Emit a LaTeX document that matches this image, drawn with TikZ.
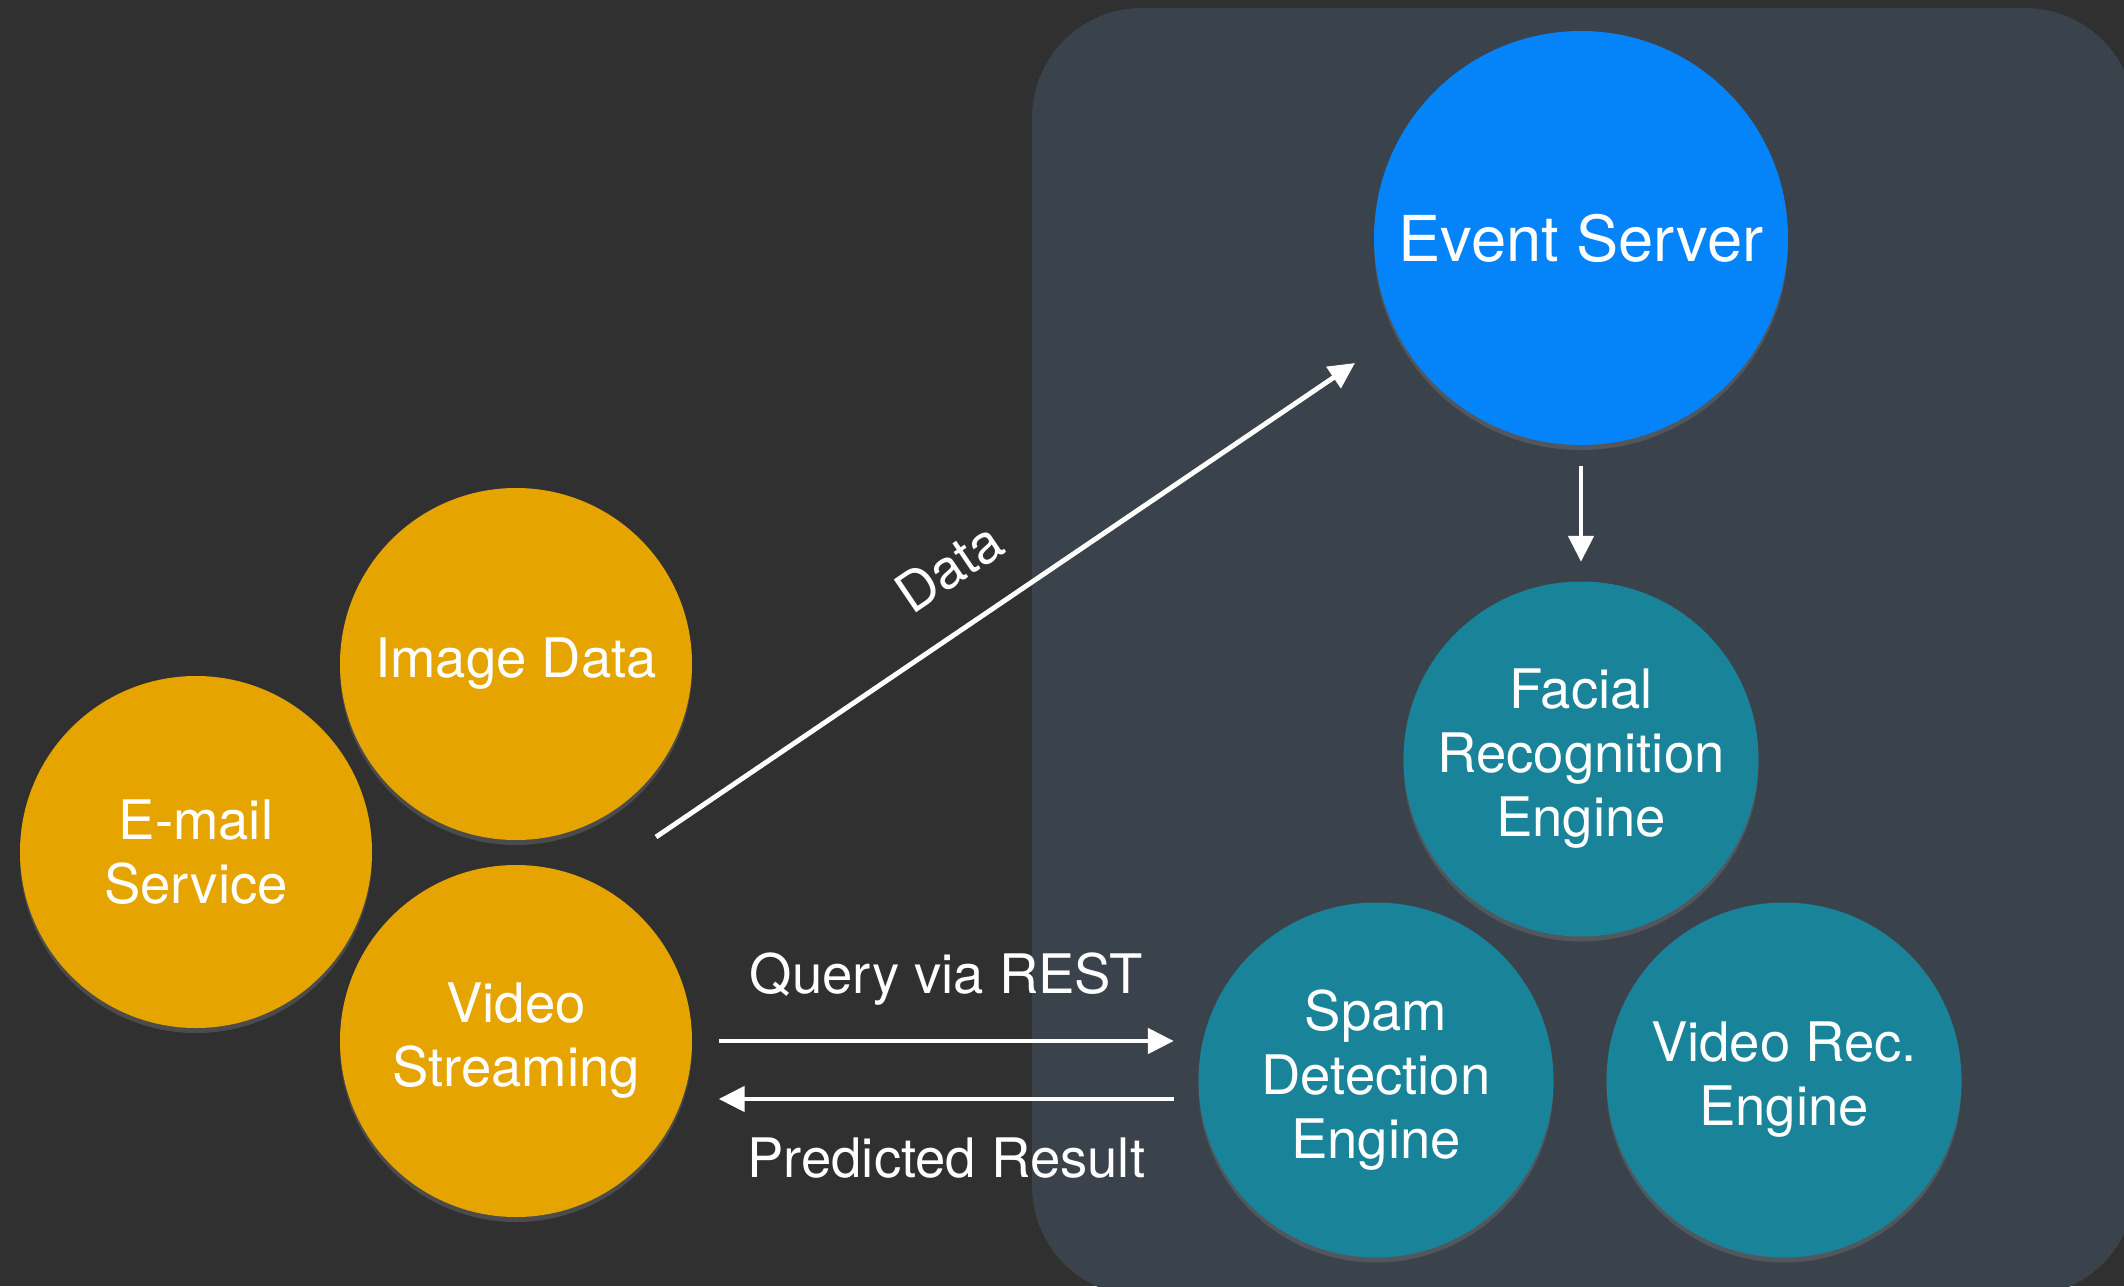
\documentclass[tikz,border=0pt]{standalone}
\usepackage{fontspec}
\setmainfont{TeX Gyre Heros}
\usepackage{tikz}
\usetikzlibrary{arrows.meta,positioning,calc,shadows}
\definecolor{pagebg}{RGB}{48,48,48}
\definecolor{panelgray}{RGB}{58,66,75}
\definecolor{eventblue}{RGB}{5,132,249}
\definecolor{srcorange}{RGB}{230,164,0}
\definecolor{engteal}{RGB}{24,131,153}
\tikzset{
  bubble/.style={circle,inner sep=0pt,align=center,text=white,
    font=\fontsize{15.5}{18.2}\selectfont,
    drop shadow={shadow xshift=0pt,shadow yshift=-0.5mm,opacity=0.35}},
  srcnode/.style={bubble,fill=srcorange,minimum size=3.52cm},
  engnode/.style={bubble,fill=engteal,minimum size=3.55cm},
  servernode/.style={bubble,fill=eventblue,minimum size=4.14cm,
    font=\fontsize{18}{21}\selectfont},
  mainflow/.style={-{Triangle[length=2.6mm,width=2.5mm]},line width=1.4pt,draw=white},
  flowlabel/.style={font=\fontsize{15.5}{18.2}\selectfont,text=white,inner sep=0pt}
}

\begin{document}
\begin{tikzpicture}
  \useasboundingbox (0,0) rectangle (21.24,12.86);
  \fill[pagebg] (0,0) rectangle (21.24,12.86);
  % server side panel
  \fill[panelgray,rounded corners=1.1cm] (10.32,12.78) rectangle (21.35,-0.1);

  % data sources
  \node[srcnode] (imgdata) at (5.16,6.22) {Image Data};
  \node[srcnode] (email) at (1.96,4.34) {E-mail\\Service};
  \node[srcnode] (vidstream) at (5.16,2.45) {Video\\Streaming};

  % server and engines
  \node[servernode] (evsrv) at (15.81,10.48) {Event Server};
  \node[engnode] (facial) at (15.81,5.27) {Facial\\Recognition\\Engine};
  \node[engnode] (spam) at (13.76,2.06) {Spam\\Detection\\Engine};
  \node[engnode] (vidrec) at (17.84,2.06) {Video Rec.\\Engine};

  \coordinate (datatail) at (6.56,4.49);
  \coordinate (datahead) at (13.55,9.23);
  \draw[mainflow] (datatail) -- node[flowlabel,sloped,pos=0.466,above=0.36cm] {Data} (datahead);
  \draw[mainflow] ([yshift=-2mm]evsrv.south) -- ([yshift=1.9mm]facial.north);
  \draw[mainflow] ($(vidstream.east)+(0.26,0)$)
    -- node[flowlabel,above=0.33cm] {Query via REST} ($(vidstream.east -| spam.west)+(-0.24,0)$);
  \draw[mainflow] ($(vidstream.east -| spam.west)+(-0.24,-0.58)$)
    -- node[flowlabel,below=0.36cm] {Predicted Result} ($(vidstream.east)+(0.26,-0.58)$);
\end{tikzpicture}
\end{document}
